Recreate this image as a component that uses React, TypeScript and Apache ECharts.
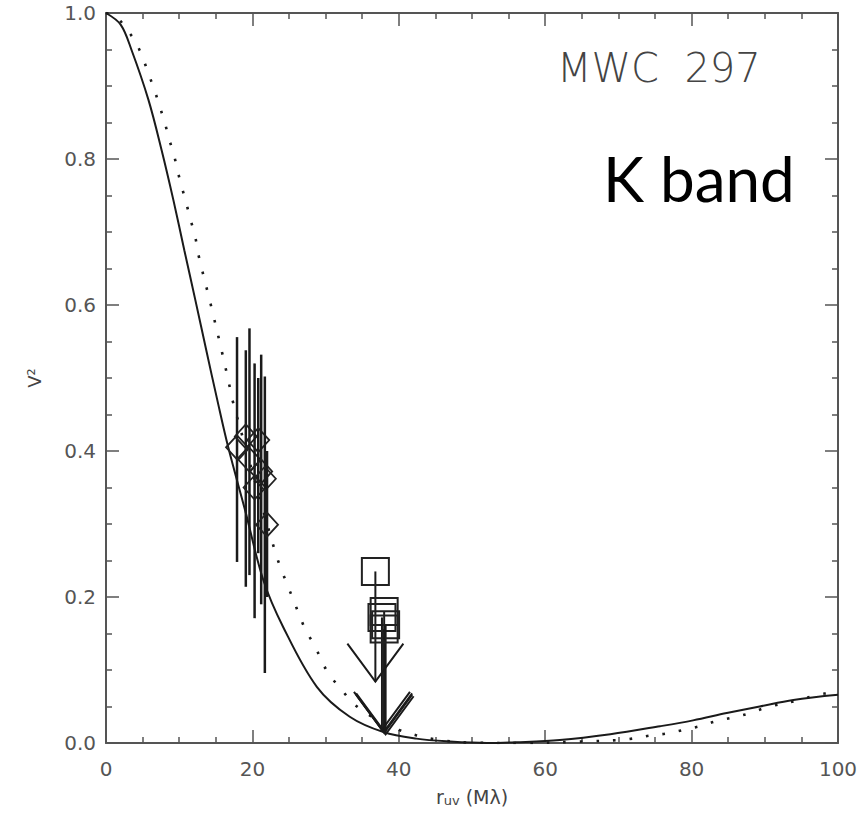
import React, { useEffect, useRef } from "react";
import * as echarts from "echarts";

// Model visibility curves, [r_uv (Mλ), V²]
const solidCurve: number[][] = [
  [0, 1.0], [2, 0.984], [3.5, 0.949], [5.8, 0.881], [7.6, 0.812], [9.2, 0.744], [10.7, 0.675],
  [12.2, 0.607], [13.7, 0.538], [15.2, 0.47], [16.7, 0.405], [19.0, 0.319],
  [21.5, 0.223], [24.2, 0.159], [28.8, 0.077], [33.3, 0.036], [37.9, 0.015],
  [42.4, 0.006], [47, 0.002], [52, 0.0], [56, 0.001], [62, 0.004], [68.9, 0.012],
  [75.7, 0.023], [80.2, 0.031], [84.8, 0.041], [89.3, 0.05], [93.9, 0.059], [100, 0.066],
];

const dottedCurve: number[][] = [
  [0, 1.0], [1.5, 0.994], [2.7, 0.979], [4.0, 0.961], [5.0, 0.939], [5.8, 0.917], [6.6, 0.895],
  [7.3, 0.873], [8.0, 0.851], [8.6, 0.828], [9.3, 0.805], [9.8, 0.783], [10.4, 0.76],
  [11.0, 0.738], [11.6, 0.715], [12.2, 0.693], [12.6, 0.67], [14.3, 0.601],
  [15.9, 0.533], [16.9, 0.488], [17.4, 0.465], [23.1, 0.262], [23.9, 0.239],
  [24.8, 0.216], [25.6, 0.196], [26.5, 0.173], [27.4, 0.152], [28.6, 0.132],
  [29.5, 0.111], [30.7, 0.091], [32.2, 0.073], [33.7, 0.055], [36, 0.038],
  [40, 0.018], [45, 0.005], [50, 0.0005], [57, 0.0], [65, 0.002], [69.9, 0.004],
  [71.9, 0.006], [74.2, 0.01], [76.6, 0.013], [78.9, 0.018], [81.1, 0.023],
  [83.4, 0.03], [85.7, 0.035], [88.0, 0.041], [90.3, 0.049], [94.8, 0.059],
  [97.1, 0.066], [99.3, 0.069], [100, 0.07],
];

// Measured points: [r_uv, V², lower error, upper error]
const diamondPoints: number[][] = [
  [17.9, 0.405, 0.248, 0.556],
  [19.1, 0.42, 0.214, 0.538],
  [19.6, 0.388, 0.23, 0.568],
  [20.3, 0.35, 0.171, 0.52],
  [20.8, 0.415, 0.26, 0.5],
  [21.2, 0.372, 0.19, 0.532],
  [21.7, 0.362, 0.096, 0.502],
  [22.0, 0.299, 0.2, 0.4],
];

// Upper limits: [r_uv, V², arrow tip]
const limitPoints: number[][] = [
  [36.8, 0.235, 0.084],
  [38.0, 0.18, 0.014],
  [37.7, 0.172, 0.018],
  [38.2, 0.162, 0.012],
  [38.0, 0.156, 0.016],
];

const xTicks = { min: 0, max: 100, interval: 20 };
const yTicks = { min: 0, max: 1, interval: 0.2 };

const AXIS = "#555";
const INK = "#1a1a1a";

export default function App() {
  const ref = useRef<HTMLDivElement>(null);

  useEffect(() => {
    if (!ref.current) return;
    const chart = echarts.init(ref.current, undefined, { renderer: "svg" });

    const tickCommon = {
      axisLine: { show: true, onZero: false, lineStyle: { color: AXIS, width: 2 } },
      axisTick: { show: true, inside: true, length: 13, lineStyle: { color: AXIS, width: 1.5 } },
      minorTick: { show: true, splitNumber: 4, length: 6, lineStyle: { color: AXIS, width: 1.5 } },
      splitLine: { show: false },
      minorSplitLine: { show: false },
    };
    const labelStyle = { color: "#555", fontSize: 20, fontFamily: "DejaVu Sans" };

    chart.setOption({
      animation: false,
      backgroundColor: "#ffffff",
      grid: { left: 106, right: 23, top: 13, bottom: 72 },
      xAxis: [
        {
          type: "value", ...xTicks, position: "bottom", ...tickCommon,
          axisLabel: { ...labelStyle, margin: 16 },
          name: "r{s|uv} (Mλ)",
          nameLocation: "middle",
          nameGap: 43,
          nameTextStyle: {
            color: "#444", fontSize: 19, fontFamily: "DejaVu Sans",
            rich: { s: { fontSize: 13, color: "#444", fontFamily: "DejaVu Sans", verticalAlign: "bottom", padding: [8, 0, 0, 0] } },
          },
        },
        { type: "value", ...xTicks, position: "top", ...tickCommon, axisLabel: { show: false } },
      ],
      yAxis: [
        {
          type: "value", ...yTicks, position: "left", ...tickCommon,
          axisLabel: { ...labelStyle, margin: 10, formatter: (v: number) => v.toFixed(1) },
          name: "V²",
          nameLocation: "middle",
          nameGap: 63,
          nameTextStyle: { color: "#444", fontSize: 18, fontFamily: "DejaVu Sans" },
        },
        { type: "value", ...yTicks, position: "right", ...tickCommon, axisLabel: { show: false } },
      ],
      graphic: [
        {
          type: "text", left: 557, top: 48,
          style: { text: "MWC  297", fill: "#444", fontSize: 40, fontFamily: "DejaVu Sans", fontWeight: 200 },
        },
        {
          type: "text", left: 603, top: 147,
          style: { text: "K band", fill: "#000", fontSize: 62, fontFamily: "Lato" },
        },
      ],
      series: [
        {
          type: "line", data: solidCurve, smooth: 0.35, showSymbol: false,
          lineStyle: { color: INK, width: 2 }, z: 2,
        },
        {
          type: "line", data: dottedCurve, smooth: 0.35, showSymbol: false,
          lineStyle: { color: INK, width: 2.6, type: [2.6, 14] }, z: 2,
        },
        {
          type: "custom", data: diamondPoints, encode: { x: 0, y: 1 }, z: 3,
          renderItem: (_p: any, api: any) => {
            const x = api.value(0), y = api.value(1);
            const c = api.coord([x, y]);
            const lo = api.coord([x, api.value(2)]);
            const hi = api.coord([x, api.value(3)]);
            return {
              type: "group",
              children: [
                { type: "line", shape: { x1: lo[0], y1: lo[1], x2: hi[0], y2: hi[1] }, style: { stroke: INK, lineWidth: 2.5 } },
                {
                  type: "polygon",
                  shape: { points: [[c[0], c[1] - 12], [c[0] + 11, c[1]], [c[0], c[1] + 12], [c[0] - 11, c[1]]] },
                  style: { fill: "none", stroke: "#222", lineWidth: 1.8 },
                },
              ],
            };
          },
        },
        {
          type: "custom", data: limitPoints, encode: { x: 0, y: 1 }, z: 3,
          renderItem: (_p: any, api: any) => {
            const x = api.value(0), y = api.value(1);
            const c = api.coord([x, y]);
            const tip = api.coord([x, api.value(2)]);
            const h = 13.5;
            return {
              type: "group",
              children: [
                { type: "line", shape: { x1: c[0], y1: c[1], x2: tip[0], y2: tip[1] }, style: { stroke: INK, lineWidth: 2 } },
                {
                  type: "polyline",
                  shape: { points: [[tip[0] - 28, tip[1] - 38], [tip[0], tip[1]], [tip[0] + 28, tip[1] - 38]] },
                  style: { fill: "none", stroke: INK, lineWidth: 2 },
                },
                { type: "rect", shape: { x: c[0] - h, y: c[1] - h, width: 2 * h, height: 2 * h }, style: { fill: "none", stroke: "#222", lineWidth: 2 } },
              ],
            };
          },
        },
      ],
    });

    return () => chart.dispose();
  }, []);

  return <div ref={ref} style={{ width: 861, height: 815, position: "absolute", left: 0, top: 0 }} />;
}
